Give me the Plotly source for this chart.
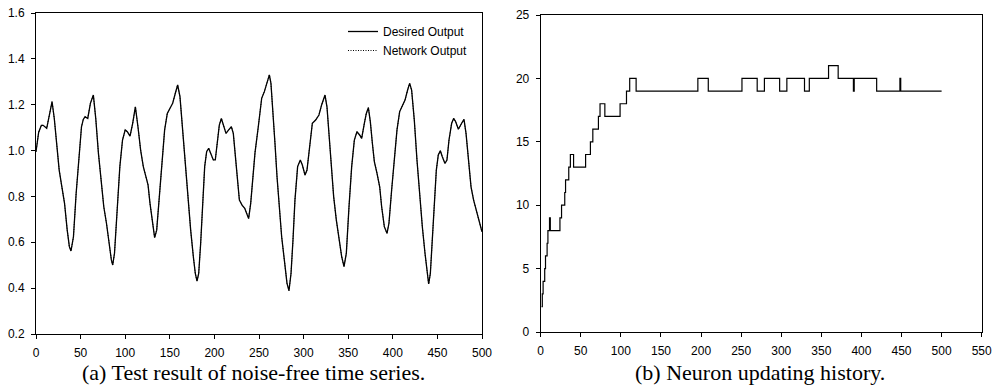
import plotly.graph_objects as go

# ---- (a) noise-free time series ----
t_points = [0, 3, 6, 8, 12, 15, 18, 20.5, 23, 26, 29, 32, 35, 37.4, 39.2, 42, 45, 48, 51, 53, 55, 58, 61, 64.3,
            67, 70, 73, 76, 79, 82, 84.5, 86, 88, 91, 94, 97, 100, 102.4, 105.4, 108.4, 111.4, 114.3, 117.3,
            120.3, 123.3, 125.6, 127.8, 130.8, 133, 135.3, 138.3, 141.3, 144.2, 147.2, 150.2, 153.2, 156.2,
            158.8, 161.4, 164.4, 167.4, 170.4, 173.4, 176.4, 178.6, 180.5, 182.4, 184.6, 186.8, 189.1, 191.3,
            193.6, 195.8, 198.8, 201, 203.3, 205.5, 207.8, 210, 213, 216, 219, 221.2, 223.5, 225.7, 228, 231,
            234, 236.2, 238.4, 240.7, 243.6, 245.5, 249.2, 253, 256, 259, 261.6, 263.4, 265.7, 267.9, 270.2,
            272.4, 275.4, 278.4, 281.4, 283.6, 285.9, 288.1, 290.3, 293.3, 296.3, 298.6, 301.6, 303.8, 306.8,
            309.8, 313.5, 317.2, 320.2, 324, 326.2, 328.5, 330.7, 333.7, 336.7, 339.7, 342.7, 345.3, 347.9,
            350.9, 353.9, 356.9, 359.8, 362.8, 365.1, 368.1, 370.3, 372.6, 374.8, 377.1, 379.3, 382.3, 385.3,
            387.5, 390.5, 393.5, 395.7, 398.7, 401.7, 404.7, 407.7, 410.7, 413.7, 416.6, 418.9, 421.1, 424.1,
            427.1, 430.1, 433.1, 436.1, 438.3, 440.2, 442.1, 444.3, 446.6, 448.8, 451, 453.3, 455.5, 458.5,
            460.7, 463, 466, 468.2, 470.5, 473.5, 477.2, 479.8, 482.1, 484.7, 487.7, 490.6, 493.6, 496.6, 500]
desired_output = [0.995, 1.08, 1.11, 1.11, 1.097, 1.155, 1.213, 1.14, 1.03, 0.915, 0.842, 0.77, 0.653, 0.581,
                  0.562, 0.624, 0.813, 0.973, 1.104, 1.136, 1.148, 1.14, 1.206, 1.242, 1.14, 0.988, 0.857, 0.755,
                  0.683, 0.581, 0.523, 0.501, 0.552, 0.741, 0.93, 1.046, 1.09, 1.082, 1.063, 1.119, 1.191, 1.104,
                  1.002, 0.93, 0.879, 0.85, 0.77, 0.668, 0.62, 0.653, 0.799, 0.959, 1.09, 1.162, 1.184, 1.206,
                  1.25, 1.286, 1.235, 1.09, 0.93, 0.784, 0.653, 0.537, 0.464, 0.431, 0.464, 0.595, 0.784, 0.93,
                  0.995, 1.01, 0.988, 0.959, 0.959, 1.03, 1.111, 1.14, 1.111, 1.075, 1.09, 1.104, 1.075, 0.973,
                  0.857, 0.784, 0.762, 0.748, 0.726, 0.704, 0.77, 0.90, 0.99, 1.104, 1.228, 1.257, 1.293, 1.33,
                  1.293, 1.177, 1.032, 0.886, 0.755, 0.624, 0.523, 0.421, 0.389, 0.464, 0.61, 0.784, 0.93, 0.959,
                  0.937, 0.893, 0.915, 1.032, 1.119, 1.133, 1.155, 1.199, 1.242, 1.191, 1.075, 0.944, 0.799,
                  0.697, 0.61, 0.537, 0.494, 0.552, 0.755, 0.93, 1.046, 1.082, 1.068, 1.053, 1.119, 1.162, 1.187,
                  1.126, 1.032, 0.952, 0.901, 0.842, 0.755, 0.668, 0.639, 0.683, 0.828, 0.973, 1.09, 1.17, 1.199,
                  1.22, 1.264, 1.293, 1.264, 1.133, 0.959, 0.799, 0.668, 0.552, 0.464, 0.418, 0.464, 0.61, 0.784,
                  0.915, 0.981, 0.999, 0.973, 0.944, 0.959, 1.046, 1.119, 1.14, 1.126, 1.093, 1.119, 1.136, 1.075,
                  0.959, 0.842, 0.784, 0.741, 0.697, 0.646]
network_output = list(desired_output)

# ---- (b) neuron updating history: (iteration where value starts, number of neurons) ----
iter_points = [1, 2, 3, 5, 6, 8, 9, 11, 12, 24, 26, 30, 31, 35, 37, 41, 56, 62, 65, 72, 74, 80, 99, 107, 111,
               119, 196, 209, 251, 270, 279, 298, 307, 329, 335, 359, 371, 390, 391, 419, 448, 449, 500]
neurons = [2, 3, 4, 5, 6, 7, 8, 9, 8, 9, 10, 11, 12, 13, 14, 13, 14, 15, 16, 17, 18, 17, 18, 19, 20,
           19, 20, 19, 20, 19, 20, 19, 20, 19, 20, 21, 20, 19, 20, 19, 20, 19, 19]

W, H = 995, 392


def px(x):
    return x / W


def py(y):
    return 1 - y / H


fig = go.Figure()
fig.add_trace(go.Scatter(x=t_points, y=desired_output, mode="lines", name="Desired Output",
                         line=dict(color="black", width=1.3), xaxis="x", yaxis="y"))
fig.add_trace(go.Scatter(x=t_points, y=network_output, mode="lines", name="Network Output",
                         line=dict(color="black", width=1.0, dash="1px,1.5px"), xaxis="x", yaxis="y"))
fig.add_trace(go.Scatter(x=iter_points, y=neurons, mode="lines", line_shape="hv", showlegend=False,
                         line=dict(color="black", width=1.2), xaxis="x2", yaxis="y2"))

axfont = dict(family="Arial, Liberation Sans, sans-serif", size=12, color="black")
common = dict(showline=True, linecolor="black", linewidth=1, mirror=True, ticks="outside", ticklen=4,
              tickcolor="black", showgrid=False, zeroline=False, tickfont=axfont, automargin=False)

fig.update_layout(
    width=W, height=H, margin=dict(l=0, r=0, t=0, b=0),
    paper_bgcolor="white", plot_bgcolor="white",
    xaxis=dict(domain=[px(36), px(482)], range=[0, 500], dtick=50, anchor="y", ticklabelstandoff=4, **common),
    yaxis=dict(domain=[py(334), py(13)], range=[0.2, 1.6], dtick=0.2, tickformat=".1f", anchor="x",
               ticklabelstandoff=4, **common),
    xaxis2=dict(domain=[px(540.7), px(981.7)], range=[0, 550], dtick=50, anchor="y2", ticklabelstandoff=4,
                **common),
    yaxis2=dict(domain=[py(332), py(15)], range=[0, 25], dtick=5, anchor="x2", ticklabelstandoff=4, **common),
    legend=dict(x=px(343), y=py(17), xanchor="left", yanchor="top", bgcolor="rgba(0,0,0,0)",
                font=dict(family="Arial, Liberation Sans, sans-serif", size=12, color="black"),
                tracegroupgap=0, itemwidth=30),
    showlegend=True,
    annotations=[
        dict(text="(a) Test result of noise-free time series.", x=px(253), y=py(372), xref="paper",
             yref="paper", showarrow=False, xanchor="center", yanchor="middle",
             font=dict(family="Times New Roman, Liberation Serif, serif", size=22, color="black")),
        dict(text="(b) Neuron updating history.", x=px(760), y=py(372), xref="paper", yref="paper",
             showarrow=False, xanchor="center", yanchor="middle",
             font=dict(family="Times New Roman, Liberation Serif, serif", size=22, color="black")),
    ],
)

# remove the default 8px page margin so the figure fills the window exactly
fig.write_html("out.html", config={"displayModeBar": False},
               post_script="document.body.style.margin='0';")
